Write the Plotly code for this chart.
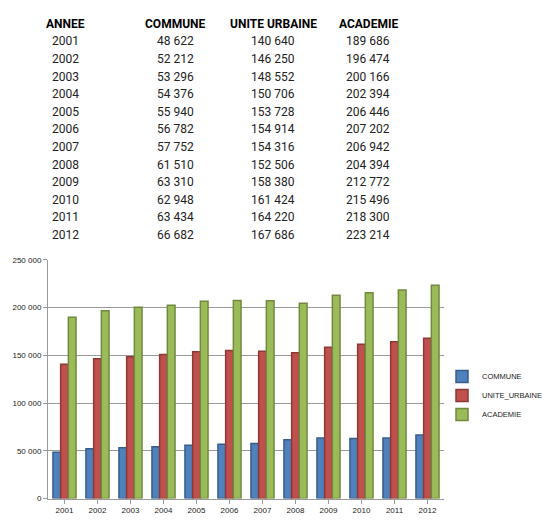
import plotly.graph_objects as go

annees = ["2001", "2002", "2003", "2004", "2005", "2006",
          "2007", "2008", "2009", "2010", "2011", "2012"]
commune = [48622, 52212, 53296, 54376, 55940, 56782,
           57752, 61510, 63310, 62948, 63434, 66682]
unite_urbaine = [140640, 146250, 148552, 150706, 153728, 154914,
                 154316, 152506, 158380, 161424, 164220, 167686]
academie = [189686, 196474, 200166, 202394, 206446, 207202,
            206942, 204394, 212772, 215496, 218300, 223214]
headers = ["ANNEE", "COMMUNE", "UNITE URBAINE", "ACADEMIE"]
y_ticks = [0, 50000, 100000, 150000, 200000, 250000]

# the page body has an 8px margin, so the figure is drawn 8px in
OFF = 8
W, H = 560, 530


def px(x):
    return (x - OFF) / W


def py(y):
    return 1 - (y - OFF) / H


def fmt(v):
    return f"{v:,}".replace(",", " ")


fig = go.Figure()
series = [
    ("COMMUNE", commune, "#4F81BD", "#385D8A"),
    ("UNITE_URBAINE", unite_urbaine, "#C0504D", "#8C3836"),
    ("ACADEMIE", academie, "#9BBB59", "#71893F"),
]
for name, vals, col, dark in series:
    fig.add_trace(go.Bar(
        x=annees, y=vals, name=name,
        marker=dict(color=col, line=dict(color=dark, width=1.5)),
    ))

# table drawn as text above the chart
col_x = [65, 175, 273, 368]
ann = []
for cx, h in zip(col_x, headers):
    ann.append(dict(x=px(cx), y=py(20), xref="paper", yref="paper",
                    xanchor="center", yanchor="middle",
                    text=f"<b>{h}</b>", showarrow=False,
                    font=dict(size=12, color="black", family="Roboto")))
for i, a in enumerate(annees):
    yy = py(38 + i * 17.9)
    row = [a, fmt(commune[i]), fmt(unite_urbaine[i]), fmt(academie[i])]
    for cx, t in zip(col_x, row):
        ann.append(dict(x=px(cx), y=yy, xref="paper", yref="paper",
                        xanchor="center", yanchor="middle",
                        text=t, showarrow=False,
                        font=dict(size=12, color="#222", family="Roboto")))

fig.update_layout(
    width=W, height=H,
    margin=dict(l=0, r=0, t=0, b=0),
    paper_bgcolor="white", plot_bgcolor="white",
    barmode="group", bargap=0.3, bargroupgap=0,
    separators=", ",
    font=dict(family="Liberation Sans", size=8, color="#333"),
    xaxis=dict(domain=[px(48), px(444)], showline=True, linecolor="#999",
               ticks="outside", ticklen=4, tickcolor="#999",
               tickfont=dict(size=8, color="#222")),
    yaxis=dict(domain=[py(503), py(260)], range=[0, 250000],
               tickvals=y_ticks, tickformat=",d",
               showgrid=True, gridcolor="#999", gridwidth=1,
               showline=True, linecolor="#999", zeroline=False,
               ticks="outside", ticklen=4, tickcolor="#999",
               tickfont=dict(size=8, color="#222")),
    legend=dict(x=px(442), y=py(364), xanchor="left", yanchor="top",
                bgcolor="rgba(0,0,0,0)",
                font=dict(size=7.5, color="#222"), itemwidth=30,
                tracegroupgap=0),
    annotations=ann,
)

fig.write_html("out.html")
